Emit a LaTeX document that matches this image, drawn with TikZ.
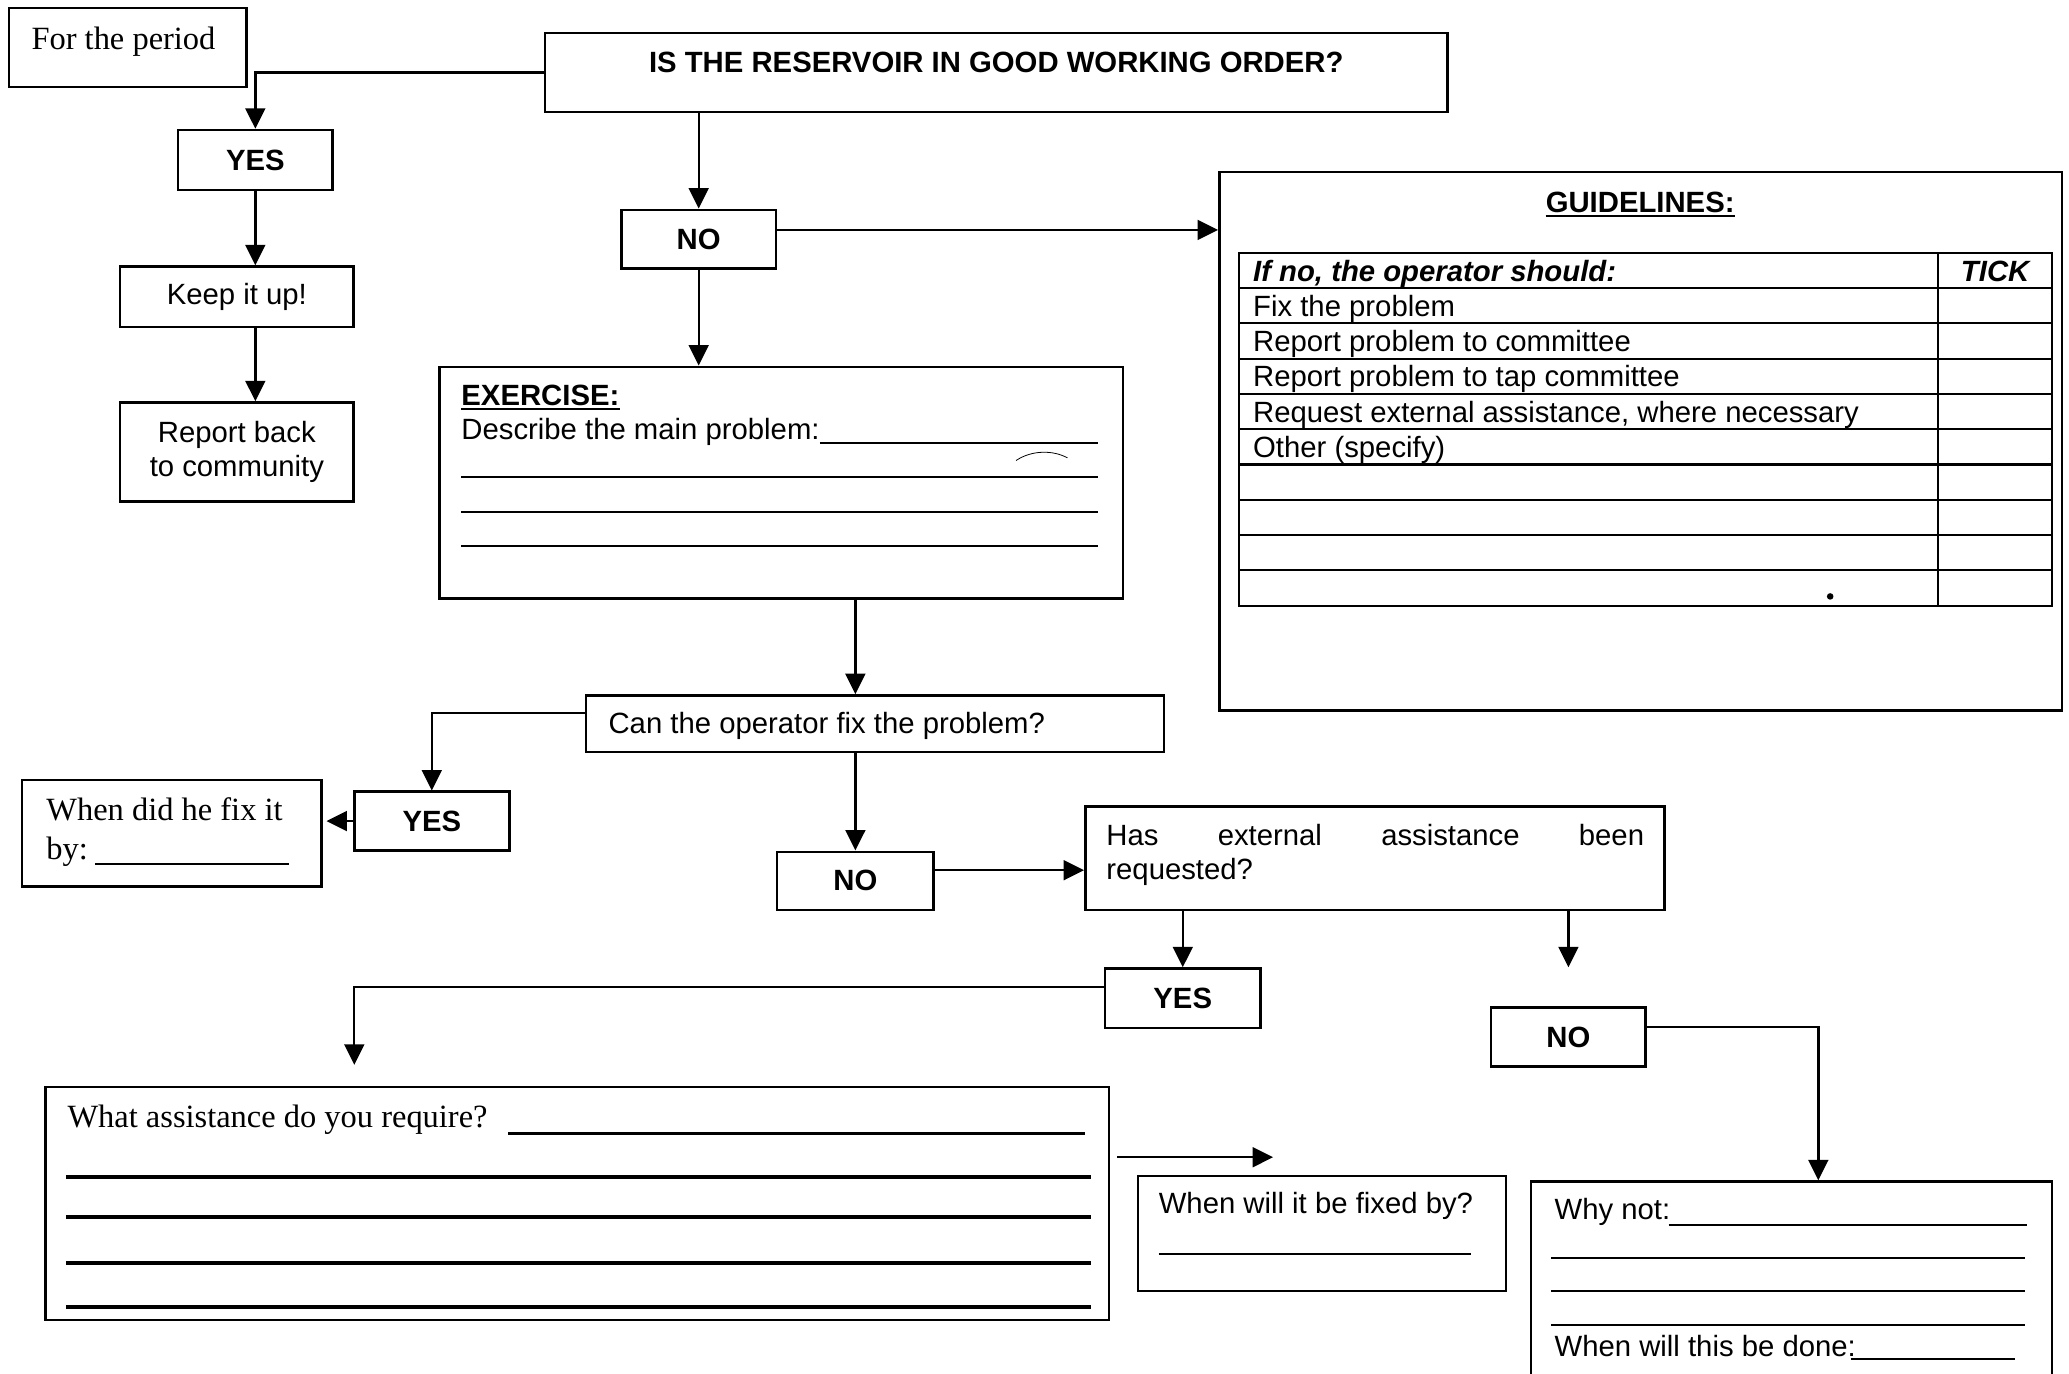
\documentclass[tikz,border=0pt]{standalone}
\usepackage{fontspec}
\setmainfont{Liberation Sans}
\newfontfamily\timesfont{Liberation Serif}
\usetikzlibrary{arrows.meta}
\newcommand\sz{\fontsize{22.2}{25.7}\selectfont}
\newcommand\serifsz{\timesfont\fontsize{24.6}{29}\selectfont}
% \boxnode[options]{name}{x1}{y1}{x2}{y2}{text}
\newcommand\boxnode[7][]{%
  \node[box,#1,minimum width={(#5-#3)*1pt},minimum height={(#6-#4)*1pt}]
    (#2) at ({(#3+#5)/2},{(#4+#6)/2}) {#7};}
\begin{document}
\begin{tikzpicture}[x=1pt,y=-1pt,
  box/.style={draw,rectangle,line width=1.9pt,inner sep=0pt},
  link/.style={line width=1.8pt,-{Triangle[length=15.5pt,width=15pt]}},
  rule/.style={line width=1.6pt},
  heavyrule/.style={line width=3pt},
  lbl/.style={inner sep=0pt,font=\sz},
  bold/.style={font=\bfseries\sz}]
\clip (0,0) rectangle (1568,1041);
\fill[white] (0,0) rectangle (1568,1041);

% ---------- top row ----------
\boxnode{period}{7}{6}{187}{66}{}
\node[lbl,anchor=base west,font=\serifsz] (periodtxt) at (23.7,37.4) {For the period};

\boxnode{main}{413}{25}{1097}{85}{}
\node[lbl,anchor=base,bold] (maintxt) at (755,55) {IS THE RESERVOIR IN GOOD WORKING ORDER?};

% ---------- YES branch ----------
\boxnode[bold]{yes1}{135}{98.5}{252}{144}{YES}
\boxnode[font=\sz]{keep}{91}{202}{268}{248}{Keep it up!}
\boxnode[font=\sz,align=center]{report}{91}{305}{268}{380}{Report back\\to community}

\draw[link] (main.west) -| (yes1.north);
\draw[link] (yes1.south) -- (yes1.south |- keep.north);
\draw[link] (yes1.south |- keep.south) -- (yes1.south |- report.north);

% ---------- NO branch ----------
\boxnode[bold]{no1}{471}{159}{588}{203.5}{NO}
\draw[link] (main.south -| no1.north) -- (no1.north);

% guidelines panel
\boxnode{guide}{924}{130.5}{1562.5}{538.5}{}
\node[lbl,anchor=base,bold] (guidetitle) at (1243,161) {GUIDELINES:};
\draw[line width=1.5pt] ([yshift=-2.6pt]guidetitle.base west) -- ([yshift=-2.6pt]guidetitle.base east);
\coordinate (noout) at ([yshift=7pt]no1.east);
\draw[link] (noout) -- (noout -| guide.west);

\draw[line width=1.6pt] (939,191.5) rectangle (1555,459);
\draw[line width=1.6pt] (1469,191.5) -- (1469,459);
\foreach \k in {1,...,9}
  \draw[line width=1.6pt] (939,{191.5+26.75*\k}) -- (1555,{191.5+26.75*\k});
\node[lbl,anchor=base west,font=\bfseries\itshape\sz] (th1) at (949.5,213) {If no, the operator should:};
\node[lbl,anchor=base,font=\bfseries\itshape\sz] (th2) at (1512,213) {TICK};
\node[lbl,anchor=base west] (r1) at (949.5,{213+26.75*1}) {Fix the problem};
\node[lbl,anchor=base west] (r2) at (949.5,{213+26.75*2}) {Report problem to committee};
\node[lbl,anchor=base west] (r3) at (949.5,{213+26.75*3}) {Report problem to tap committee};
\node[lbl,anchor=base west] (r4) at (949.5,{213+26.75*4}) {Request external assistance, where necessary};
\node[lbl,anchor=base west] (r5) at (949.5,{213+26.75*5}) {Other (specify)};
\fill (1387,452) circle (2.5);

% exercise box
\boxnode{exercise}{333}{278}{851}{453.5}{}
\draw[link] (no1.south) -- (no1.south |- exercise.north);
\node[lbl,anchor=base west,bold] (exhead) at (349.5,307.5) {EXERCISE:};
\draw[line width=1.5pt] ([yshift=-2.6pt]exhead.base west) -- ([yshift=-2.6pt]exhead.base east);
\node[lbl,anchor=base west] (exq) at (349.5,333) {Describe the main problem:};
\draw[rule] (621.4,336) -- (832,336);
\foreach \y in {361.5,388,413.5}
  \draw[rule] (349.5,\y) -- (832,\y);
\draw[line width=0.6pt] (770,349) .. controls (782,341) and (798,341) .. (809,347);

% ---------- can the operator fix it ----------
\boxnode{can}{444}{527}{882}{570}{}
\node[lbl,anchor=base west] (cantxt) at (461,556) {Can the operator fix the problem?};

\boxnode[bold]{yes2}{268.5}{600}{386}{644.5}{YES}
\boxnode{when}{16.5}{591}{243.5}{672}{}
\node[lbl,anchor=base west,font=\serifsz] (whentxt1) at (35,622) {When did he fix it};
\node[lbl,anchor=base west,font=\serifsz] (whentxt2) at (35,651) {by:};
\draw[rule] (72,655) -- (219,655);

\boxnode[bold]{no2}{589}{645.5}{707.5}{689.5}{NO}
\draw[link] (no2.north |- exercise.south) -- (no2.north |- can.north);
\draw[link] ([yshift=8pt]can.west) -| (yes2.north);
\draw[link] (yes2.west) -- ([xshift=3pt]yes2.west -| when.east);
\draw[link] (can.south -| no2.north) -- (no2.north);

% ---------- external assistance ----------
\boxnode{has}{822.5}{611.2}{1261.3}{689.7}{}
\node[lbl,anchor=base west] (hastxt1) at (838.3,641) {\makebox[407.5pt][s]{Has\hfill external\hfill assistance\hfill been}};
\node[lbl,anchor=base west] (hastxt2) at (838.3,666.8) {requested?};
\coordinate (no2out) at ([yshift=8pt]no2.east);
\draw[link] (no2out) -- (no2out -| has.west);

\boxnode[bold]{yes3}{837.3}{734}{955.4}{779}{YES}
\boxnode[bold]{no3}{1130.1}{763.4}{1247.2}{808.3}{NO}
\draw[link] (has.south -| yes3.north) -- (yes3.north);
\coordinate (noend) at (no3.north |- yes3.north);
\draw[link] (has.south -| no3.north) -- (noend);

% ---------- assistance requested ----------
\boxnode{assist}{34.5}{823.6}{840.5}{1000.4}{}
\coordinate (yesend) at (268.5,807);
\draw[link] ([yshift=8.5pt]yes3.west) -| (yesend);
\node[lbl,anchor=base west,font=\serifsz] (assisttxt) at (51,854.4) {What assistance do you require?};
\draw[rule] (385,859) -- (822.6,859);
\foreach \y in {891.8,922.6,957.4,990.3}
  \draw[heavyrule] (50,\y) -- (826.5,\y);

\coordinate (fa) at (846.7,877);
\coordinate (fb) at (964.8,877);
\draw[link] (fa) -- (fb);

\boxnode{fixed}{862.6}{891.2}{1141.3}{978.4}{}
\node[lbl,anchor=base west] (fixedtxt) at (878,920) {When will it be fixed by?};
\draw[rule] (878,950) -- (1114.6,950);

% ---------- not requested ----------
\boxnode{whynot}{1160.1}{895.5}{1555}{1060}{}
\draw[link] ([yshift=7.5pt]no3.east) -| ([xshift=20.45pt]whynot.north);
\node[lbl,anchor=base west] (whytxt) at (1178,924) {Why not:};
\draw[rule] (1264.5,928.4) -- (1536,928.4);
\foreach \y in {953.5,978.4,1004.1}
  \draw[rule] (1175.5,\y) -- (1535,\y);
\node[lbl,anchor=base west] (donetxt) at (1178,1028) {When will this be done:};
\draw[rule] (1402.7,1030) -- (1527,1030);
\end{tikzpicture}
\end{document}
